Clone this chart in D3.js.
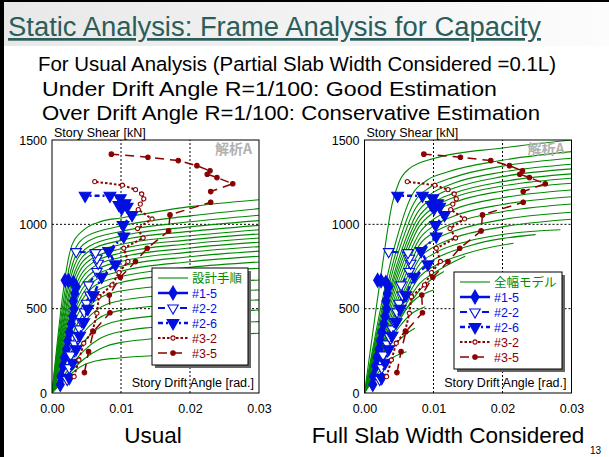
<!DOCTYPE html>
<html>
<head>
<meta charset="utf-8">
<script src="https://cdn.jsdelivr.net/npm/d3@7"></script>
<style>
  body { margin: 0; background: #fff; }
  svg { display: block; font-family: Arial, "Liberation Sans", sans-serif; }
</style>
</head>
<body>
<div id="chart"></div>
<script>
// axis ticks
const xTicks = [0, 0.01, 0.02, 0.03];
const yTicks = [0, 500, 1000, 1500];

// test results: [story drift angle (rad), story shear (kN)]
const test15 = [[0.0012,50],[0.0013,100],[0.0016,160],[0.0018,210],[0.0021,260],[0.0023,310],[0.0025,360],
  [0.0028,410],[0.0030,455],[0.0032,500],[0.0031,545],[0.0033,590],[0.0035,630],[0.0031,655],[0.0024,665],[0.0019,668]];
const test22 = [[0.0022,80],[0.0025,150],[0.0027,225],[0.0033,290],[0.0036,334],[0.0040,380],[0.0043,423],
  [0.0047,480],[0.0050,532],[0.0055,581],[0.0053,641],[0.0065,720],[0.0067,769],[0.0065,799],[0.0063,832],[0.0035,838]];
const test26 = [[0.0025,90],[0.0030,180],[0.0035,260],[0.0040,340],[0.0046,420],[0.0052,500],[0.0060,580],
  [0.0072,690],[0.0092,763],[0.0082,842],[0.0104,928],[0.0103,996],[0.0116,1056],[0.0101,1095],[0.0109,1105],
  [0.0097,1115],[0.0106,1125],[0.0099,1155],[0.0084,1170],[0.0048,1170]];
const test32 = [[0.0032,97],[0.0039,196],[0.0046,295],[0.0059,368],[0.0065,473],[0.0068,571],[0.0087,641],
  [0.0097,714],[0.0110,780],[0.0104,858],[0.0132,919],[0.0124,975],[0.0145,1032],[0.0125,1087],[0.0128,1120],
  [0.0133,1151],[0.0130,1180],[0.0121,1206],[0.0102,1232],[0.0062,1253]];
const test35 = [[0.0047,121],[0.0053,245],[0.0060,364],[0.0084,476],[0.0083,581],[0.0099,686],[0.0121,779],
  [0.0138,858],[0.0169,961],[0.0171,1056],[0.0230,1131],[0.0230,1194],[0.0262,1241],[0.0239,1277],[0.0225,1297],
  [0.0229,1317],[0.0210,1348],[0.0183,1378],[0.0139,1398],[0.0086,1416]];

// 設計手順 (usual analysis) curves
const usualCurves = [
  [[0,0],[0.0029,878],[0.0046,967],[0.0070,1016],[0.010,1038],[0.020,1105],[0.030,1146]],
  [[0,0],[0.0030,820],[0.0050,930],[0.010,990],[0.020,1050],[0.030,1093]],
  [[0,0],[0.0031,780],[0.0052,900],[0.010,958],[0.020,1015],[0.030,1054]],
  [[0,0],[0.0032,750],[0.0054,870],[0.010,930],[0.020,985],[0.030,1022]],
  [[0,0],[0.0033,720],[0.0055,845],[0.010,905],[0.020,958],[0.030,994]],
  [[0,0],[0.0034,700],[0.0056,820],[0.010,880],[0.020,932],[0.030,968]],
  [[0,0],[0.0035,675],[0.0057,795],[0.010,855],[0.020,908],[0.030,943]],
  [[0,0],[0.0036,650],[0.0058,770],[0.010,830],[0.020,885],[0.030,919]],
  [[0,0],[0.0037,630],[0.0059,745],[0.010,805],[0.020,860],[0.030,894]],
  [[0,0],[0.0038,605],[0.0060,720],[0.010,780],[0.020,835],[0.030,868]],
  [[0,0],[0.0039,580],[0.0060,690],[0.010,752],[0.020,808],[0.030,841]],
  [[0,0],[0.0040,555],[0.0060,662],[0.010,722],[0.020,778],[0.030,811]],
  [[0,0],[0.0040,525],[0.0060,630],[0.010,690],[0.020,745],[0.030,777]],
  [[0,0],[0.0041,495],[0.0060,595],[0.010,655],[0.020,708],[0.030,740]],
  [[0,0],[0.0042,450],[0.0062,545],[0.010,605],[0.020,645],[0.030,670]],
  [[0,0],[0.0043,400],[0.0064,490],[0.010,548],[0.020,590],[0.030,611]],
  [[0,0],[0.0044,350],[0.0065,435],[0.010,490],[0.020,530],[0.030,552]],
  [[0,0],[0.0045,300],[0.0066,380],[0.010,430],[0.020,472],[0.030,492]],
  [[0,0],[0.0046,250],[0.0068,320],[0.010,365],[0.020,405],[0.030,423]],
  [[0,0],[0.0046,200],[0.0070,262],[0.010,300],[0.020,335],[0.030,354]],
  [[0,0],[0.0046,166],[0.0070,195],[0.0094,206],[0.015,222],[0.020,230]]
];

// 全幅モデル (full slab width) curves
const fullCurves = [
  [[0,0],[0.0025,730],[0.0040,1120],[0.0050,1250],[0.0065,1330],[0.010,1390],[0.020,1453],[0.030,1500]],
  [[0,0],[0.0043,860],[0.0069,1176],[0.0090,1260],[0.012,1310],[0.020,1380],[0.030,1431]],
  [[0,0],[0.0046,840],[0.0072,1130],[0.0095,1220],[0.013,1280],[0.020,1345],[0.030,1392]],
  [[0,0],[0.0048,820],[0.0074,1095],[0.0098,1185],[0.013,1245],[0.020,1310],[0.030,1356]],
  [[0,0],[0.0050,800],[0.0076,1065],[0.010,1160],[0.013,1215],[0.020,1283],[0.030,1329]],
  [[0,0],[0.0051,780],[0.0077,1035],[0.010,1130],[0.013,1185],[0.020,1253],[0.030,1299]],
  [[0,0],[0.0052,760],[0.0078,1010],[0.010,1100],[0.013,1160],[0.020,1227],[0.030,1273]],
  [[0,0],[0.0053,740],[0.0079,985],[0.010,1070],[0.013,1130],[0.020,1198],[0.030,1244]],
  [[0,0],[0.0054,715],[0.0080,950],[0.010,1030],[0.013,1090],[0.020,1158],[0.030,1204]],
  [[0,0],[0.0055,690],[0.0080,915],[0.010,990],[0.013,1050],[0.020,1118],[0.030,1164]],
  [[0,0],[0.0056,665],[0.0080,880],[0.010,950],[0.013,1008],[0.020,1075],[0.030,1121]],
  [[0,0],[0.0057,640],[0.0080,840],[0.010,905],[0.013,960],[0.020,1028],[0.030,1072]],
  [[0,0],[0.0058,615],[0.0080,800],[0.010,865],[0.013,920],[0.020,985],[0.030,1030]],
  [[0,0],[0.0058,590],[0.0080,765],[0.010,825],[0.015,900],[0.020,940],[0.0284,968]],
  [[0,0],[0.0058,565],[0.0080,730],[0.010,790],[0.015,870],[0.0248,939]],
  [[0,0],[0.0058,540],[0.0080,690],[0.010,750],[0.015,830],[0.0216,888]],
  [[0,0],[0.0058,510],[0.0080,650],[0.010,710],[0.0146,811]],
  [[0,0],[0.0058,480],[0.0080,610],[0.0115,720]],
  [[0,0],[0.0055,470],[0.0075,560],[0.010,611]],
  [[0,0],[0.0050,390],[0.0068,470],[0.0088,512]],
  [[0,0],[0.0045,290],[0.0060,350],[0.0073,384]],
  [[0,0],[0.0030,170],[0.0042,212],[0.0061,245]]
];

const green = "#008a00", blue = "#0010e0", red = "#8b0000";

const series = [
  { name: "#1-5", data: test15, color: blue, width: 2.5, dash: null, sym: d3.symbolDiamond, size: 55, fill: blue, rot: 0 },
  { name: "#2-2", data: test22, color: blue, width: 2, dash: "7,4", sym: d3.symbolTriangle, size: 48, fill: "#fff", rot: 180 },
  { name: "#2-6", data: test26, color: blue, width: 2.5, dash: "5,3,2,3", sym: d3.symbolTriangle, size: 60, fill: blue, rot: 180 },
  { name: "#3-2", data: test32, color: red, width: 2, dash: "2.5,2", sym: d3.symbolCircle, size: 14, fill: "#fff", rot: 0 },
  { name: "#3-5", data: test35, color: red, width: 1.5, dash: "9,6", sym: d3.symbolCircle, size: 16, fill: red, rot: 0 }
];

const W = 609, H = 457;
const plotTop = 140, plotBottom = 393, plotW = 207;

const svg = d3.select("#chart").append("svg").attr("width", W).attr("height", H);

// slide background and frame
const grad = svg.append("defs").append("linearGradient").attr("id", "band")
  .attr("x1", 0).attr("x2", 1).attr("y1", 0).attr("y2", 0);
grad.append("stop").attr("offset", 0).attr("stop-color", "#e8e8e8");
grad.append("stop").attr("offset", 1).attr("stop-color", "#fcfcfc");
svg.append("rect").attr("x", 0).attr("y", 0).attr("width", W).attr("height", 46).attr("fill", "url(#band)");
svg.append("rect").attr("x", 0).attr("y", 0).attr("width", 4).attr("height", H).attr("fill", "#000");
svg.append("rect").attr("x", 0).attr("y", 0).attr("width", W).attr("height", 2).attr("fill", "#000");

// title
svg.append("text").attr("x", 8).attr("y", 36).attr("font-size", 27).attr("fill", "#2b5d5b")
  .attr("textLength", 533).attr("lengthAdjust", "spacingAndGlyphs")
  .attr("text-decoration", "underline").text("Static Analysis: Frame Analysis for Capacity");

const lines = [
  { t: "For Usual Analysis (Partial Slab Width Considered =0.1L)", x: 38, y: 71, len: 518 },
  { t: "Under Drift Angle R=1/100: Good Estimation", x: 42, y: 96, len: 455 },
  { t: "Over Drift Angle R=1/100: Conservative Estimation", x: 42, y: 120, len: 498 }
];
svg.selectAll(".sub").data(lines).join("text").attr("class", "sub")
  .attr("x", d => d.x).attr("y", d => d.y).attr("font-size", 20.5).attr("fill", "#000")
  .attr("textLength", d => d.len).attr("lengthAdjust", "spacingAndGlyphs").text(d => d.t);

function drawPanel(left, curves, modelName, leg, caption) {
  const x = d3.scaleLinear().domain([0, 0.03]).range([left, left + plotW]);
  const y = d3.scaleLinear().domain([0, 1500]).range([plotBottom, plotTop]);
  const g = svg.append("g");
  const clipId = "clip" + Math.round(left);
  svg.select("defs").append("clipPath").attr("id", clipId).append("rect")
    .attr("x", x(0)).attr("y", y(1500)).attr("width", plotW).attr("height", plotBottom - plotTop);

  // grid
  g.selectAll(".gx").data([0.01, 0.02]).join("line")
    .attr("x1", d => x(d)).attr("x2", d => x(d)).attr("y1", y(0)).attr("y2", y(1500))
    .attr("stroke", "#000").attr("stroke-dasharray", "2,2");
  g.selectAll(".gy").data([500, 1000]).join("line")
    .attr("y1", d => y(d)).attr("y2", d => y(d)).attr("x1", x(0)).attr("x2", x(0.03))
    .attr("stroke", "#000").attr("stroke-dasharray", "2,2");

  const inner = g.append("g").attr("clip-path", `url(#${clipId})`);
  const smooth = d3.line().x(d => x(d[0])).y(d => y(d[1])).curve(d3.curveMonotoneX);
  inner.selectAll(".model").data(curves).join("path")
    .attr("d", smooth).attr("fill", "none").attr("stroke", green).attr("stroke-width", 1.1);

  const straight = d3.line().x(d => x(d[0])).y(d => y(d[1]));
  series.forEach(s => {
    inner.append("path").attr("d", straight(s.data)).attr("fill", "none")
      .attr("stroke", s.color).attr("stroke-width", s.width)
      .attr("stroke-dasharray", s.dash);
    inner.selectAll(null).data(s.data).join("path")
      .attr("d", d3.symbol().type(s.sym).size(s.size))
      .attr("transform", d => `translate(${x(d[0])},${y(d[1])}) rotate(${s.rot})`)
      .attr("fill", s.fill).attr("stroke", s.color).attr("stroke-width", 1.1);
  });

  // frame
  g.append("rect").attr("x", x(0)).attr("y", y(1500)).attr("width", plotW).attr("height", plotBottom - plotTop)
    .attr("fill", "none").attr("stroke", "#000");

  // axes labels
  const xAxis = d3.axisBottom(x).tickValues(xTicks).tickFormat(d3.format(".2f")).tickSize(0).tickPadding(11);
  g.append("g").attr("transform", `translate(0,${y(0)})`).call(xAxis)
    .call(a => a.select(".domain").remove())
    .selectAll("text").attr("font-size", 12.5).attr("font-family", "Arial, 'Liberation Sans', sans-serif").attr("fill", "#000");
  const yAxis = d3.axisLeft(y).tickValues(yTicks).tickFormat(d3.format("d")).tickSize(0).tickPadding(5);
  g.append("g").attr("transform", `translate(${x(0)},0)`).call(yAxis)
    .call(a => a.select(".domain").remove())
    .selectAll("text").attr("font-size", 12.5).attr("font-family", "Arial, 'Liberation Sans', sans-serif").attr("fill", "#000");

  g.append("text").attr("x", x(0) + 2).attr("y", plotTop - 3).attr("font-size", 12.5).text("Story Shear [kN]");
  g.append("text").attr("x", x(0.03) - 5).attr("y", plotBottom - 6).attr("font-size", 12.5)
    .attr("text-anchor", "end").text("Story Drift Angle [rad.]");
  g.append("text").attr("x", x(0.03) - 7).attr("y", plotTop + 14).attr("font-size", 14).attr("font-weight", "bold")
    .attr("text-anchor", "end").attr("fill", "#b0b0b0")
    .attr("font-family", "'Noto Sans CJK JP', sans-serif").text("解析A");

  // legend
  const lg = g.append("g").attr("transform", `translate(${leg.x},${leg.y})`);
  lg.append("rect").attr("x", 3).attr("y", 3).attr("width", leg.w).attr("height", 97).attr("fill", "#666");
  lg.append("rect").attr("width", leg.w).attr("height", 97).attr("fill", "#fff").attr("stroke", "#000");
  const rows = [{ name: modelName, color: green, width: 1.1, dash: null, sym: null }].concat(series);
  const sx0 = 6, sx1 = leg.sw;
  rows.forEach((r, i) => {
    const ry = 10 + i * 15;
    lg.append("line").attr("x1", sx0).attr("x2", sx1).attr("y1", ry).attr("y2", ry)
      .attr("stroke", r.color).attr("stroke-width", r.width).attr("stroke-dasharray", r.dash);
    if (r.sym) {
      lg.append("path").attr("d", d3.symbol().type(r.sym).size(r.size))
        .attr("transform", `translate(${(sx0 + sx1) / 2},${ry}) rotate(${r.rot})`)
        .attr("fill", r.fill).attr("stroke", r.color).attr("stroke-width", 1.1);
    }
    lg.append("text").attr("x", sx1 + 4).attr("y", ry + 4.5).attr("font-size", 12.5).attr("fill", r.color)
      .attr("font-family", i === 0 ? "'Noto Sans CJK JP', sans-serif" : "Arial, 'Liberation Sans', sans-serif")
      .text(r.name);
  });

  svg.append("text").attr("x", caption.x).attr("y", 443).attr("font-size", 22.5)
    .attr("text-anchor", "middle").text(caption.t);
}

drawPanel(52, usualCurves, "設計手順", { x: 152, y: 268, w: 96, sw: 36 }, { t: "Usual", x: 153 });
drawPanel(364.5, fullCurves, "全幅モデル", { x: 454, y: 272, w: 108, sw: 36 }, { t: "Full Slab Width Considered", x: 448 });

svg.append("text").attr("x", 590).attr("y", 454).attr("font-size", 10).text("13");
</script>
</body>
</html>
